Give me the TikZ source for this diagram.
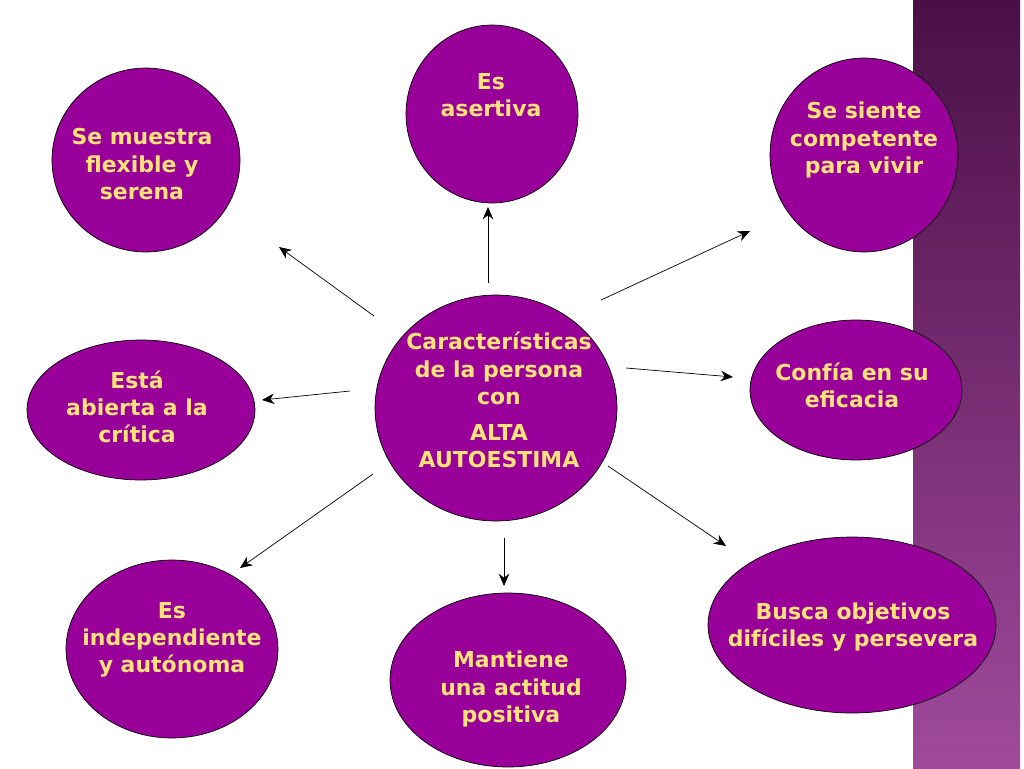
\documentclass[tikz,border=0pt]{standalone}
\usepackage{fontspec}
\setmainfont{DejaVu Sans}
\usetikzlibrary{arrows.meta}
\usetikzlibrary{shapes.geometric}
\definecolor{bubble}{HTML}{990099}
\definecolor{label}{HTML}{FFE27A}
\definecolor{stripTop}{HTML}{4A0F46}
\definecolor{stripBot}{HTML}{A04A9C}
\tikzset{
  bubble/.style={ellipse, draw=black, fill=bubble, inner sep=0pt},
  txt/.style={text=label, font=\bfseries\fontsize{12.5}{15.5}\selectfont, align=center},
  arr/.style={-{Stealth[length=7pt,width=6pt]}, thin}
}
\begin{document}
\begin{tikzpicture}[x=0.02cm, y=-0.02cm]
      \useasboundingbox (0,0) rectangle (1024,768);
      \shade[top color=stripTop, bottom color=stripBot] (913,0) rectangle (1020,768);
      \node[bubble, minimum width=3.76cm, minimum height=3.68cm] (flex) at (146,160) {};
      \node[bubble, minimum width=3.44cm, minimum height=3.56cm] (aser) at (492,114) {};
      \node[bubble, minimum width=3.76cm, minimum height=3.88cm] (comp) at (864,155) {};
      \node[bubble, minimum width=4.84cm, minimum height=4.52cm] (cent) at (496,408) {};
      \node[bubble, minimum width=4.56cm, minimum height=2.80cm] (crit) at (141,410) {};
      \node[bubble, minimum width=4.24cm, minimum height=2.80cm] (efic) at (856,390) {};
      \node[bubble, minimum width=4.24cm, minimum height=3.56cm] (inde) at (172,649) {};
      \node[bubble, minimum width=4.72cm, minimum height=3.48cm] (posi) at (508,680) {};
      \node[bubble, minimum width=5.76cm, minimum height=3.52cm] (pers) at (852,625) {};
      % texts
      \node[txt] at (142,164) {Se muestra\\flexible y\\serena};
      \node[txt] at (491,95) {Es\\asertiva};
      \node[txt] at (864,140) {Se siente\\competente\\para vivir};
      \node[txt] at (499,400) {Características\\de la persona\\con\\[5pt] ALTA\\AUTOESTIMA};
      \node[txt] at (137,407) {Está\\abierta a la\\crítica};
      \node[txt] at (852,385) {Confía en su\\eficacia};
      \node[txt] at (172,640) {Es\\independiente\\y autónoma};
      \node[txt] at (511,689) {Mantiene\\una actitud\\positiva};
      \node[txt] at (853,627) {Busca objetivos\\difíciles y persevera};
      % arrow ends
      \coordinate (s1) at (374,316); \coordinate (e1) at (279,247);
      \coordinate (s2) at (488,283); \coordinate (e2) at (488,207);
      \coordinate (s3) at (601,300); \coordinate (e3) at (750,231);
      \coordinate (s4) at (626,368); \coordinate (e4) at (733,377);
      \coordinate (s5) at (350,391); \coordinate (e5) at (262,400);
      \coordinate (s6) at (608,466); \coordinate (e6) at (726,546);
      \coordinate (s7) at (373,474); \coordinate (e7) at (240,568);
      \coordinate (s8) at (504,538); \coordinate (e8) at (504,586);
      \foreach \i in {1,...,8}
        \draw[arr] (s\i) -- (e\i);
\end{tikzpicture}
\end{document}
